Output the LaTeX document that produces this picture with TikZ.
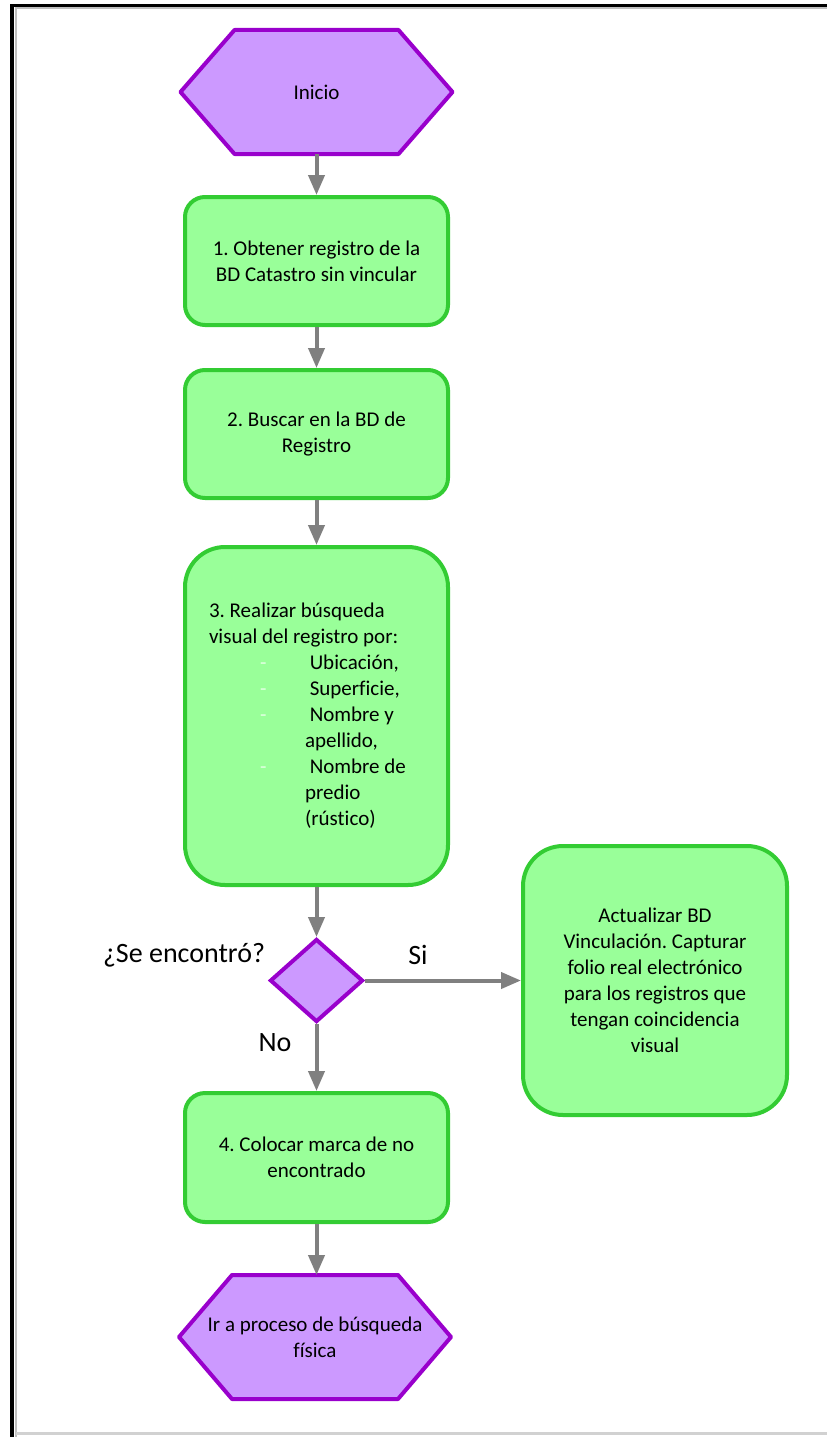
\documentclass[tikz,border=0pt]{standalone}
\usepackage{fontspec}
\setmainfont{Carlito}[Ligatures=NoCommon]
\usetikzlibrary{arrows.meta,shapes.geometric,backgrounds}

\definecolor{boxfill}{HTML}{99FF99}
\definecolor{boxline}{HTML}{33CC33}
\definecolor{hexfill}{HTML}{CC99FF}
\definecolor{hexline}{HTML}{9900CC}
\definecolor{flowgray}{HTML}{808080}
\definecolor{dashcol}{HTML}{E2FFE2}

\newcommand\flowtext{\fontsize{21}{26}\selectfont\frenchspacing}
\newcommand\flowlabel{\fontsize{28}{32}\selectfont}
% list entry with a faint dash and hanging text
\newcommand\dashitem[1]{\makebox[96pt][l]{\hspace*{51pt}\textcolor{dashcol}{-}}\ #1}

\tikzset{
  stepbox/.style={draw=boxline, fill=boxfill, line width=4pt, rounded corners=20pt,
    minimum width=263pt, minimum height=128pt, align=center, font=\flowtext, inner sep=0pt},
  bigbox/.style={stepbox, rounded corners=40pt},
  hexnode/.style={minimum width=268pt, minimum height=120pt, align=center,
    font=\flowtext, inner sep=0pt, outer sep=2pt},
  hexshape/.style={draw=hexline, fill=hexfill, line width=4pt, line join=round},
  decision/.style={diamond, draw=hexline, fill=hexfill, line width=4pt,
    minimum width=93pt, minimum height=83pt, inner sep=0pt},
  flow/.style={draw=flowgray, line width=4pt, -{Triangle[length=20pt,width=16pt]}},
  lbl/.style={font=\flowlabel, inner sep=0pt},
}

\begin{document}
\begin{tikzpicture}[x=1pt, y=-1pt]
\useasboundingbox (0,0) rectangle (827,1437);

% page frame
\draw[black!25, line width=2pt] (15.5,1437) -- (15.5,8.5) -- (827,8.5);
\draw[black!18, line width=3pt] (16,1433) -- (827,1433);
\draw[black, line width=3.5pt] (12,1437) -- (12,5.5) -- (827,5.5);

% nodes
\node[hexnode] (ini) at (316.5,92) {Inicio};
\node[stepbox] (b1) at (316.5,261) {1. Obtener registro de la\\BD Catastro sin vincular};
\node[stepbox] (b2) at (316.5,434) {2. Buscar en la BD de\\Registro};
\node[bigbox, minimum height=338pt, align=left] (b3) at (316.5,716)
  {\makebox[215pt][l]{3. Realizar búsqueda}\\
   visual del registro por:\\
   \dashitem{Ubicación,}\\
   \dashitem{Superficie,}\\
   \dashitem{Nombre y}\\
   \hspace*{96pt}apellido,\\
   \dashitem{Nombre de}\\
   \hspace*{96pt}predio\\
   \hspace*{96pt}(rústico)};
\node[decision] (dec) at (316.5,980.5) {};
\node[bigbox, minimum width=264pt, minimum height=269pt] (act) at (655,980.5)
  {Actualizar BD\\Vinculación. Capturar\\folio real electrónico\\para los registros que\\tengan coincidencia\\visual};
\node[stepbox, minimum height=129pt] (b4) at (316.5,1157.5) {4. Colocar marca de no\\encontrado};
\node[hexnode] (fin) at (315,1337) {Ir a proceso de búsqueda\\física};

% labels
\node[lbl] (q) at (184,955) {¿Se encontró?};
\node[lbl] (si) at (418,955) {Si};
\node[lbl] (no) at (275,1043) {No};

% hexagon outlines behind their text
\begin{scope}[on background layer]
  \draw[hexshape] (ini.west) -- ([xshift=54pt]ini.north west) -- ([xshift=-54pt]ini.north east)
    -- (ini.east) -- ([xshift=-54pt]ini.south east) -- ([xshift=54pt]ini.south west) -- cycle;
  \draw[hexshape] (fin.west) -- ([xshift=53pt]fin.north west) -- ([xshift=-53pt]fin.north east)
    -- (fin.east) -- ([xshift=-53pt]fin.south east) -- ([xshift=53pt]fin.south west) -- cycle;
\end{scope}

% connectors
\draw[flow] (ini.south) -- (b1.north);
\draw[flow] (b1.south) -- (b2.north);
\draw[flow] (b2.south) -- (b3.north);
\draw[flow] (b3.south) -- (dec.north);
\draw[flow] (dec.east) -- (act.west);
\draw[flow] (dec.south) -- (b4.north);
\draw[flow] (b4.south) -- (b4.south |- fin.north);
\end{tikzpicture}
\end{document}
